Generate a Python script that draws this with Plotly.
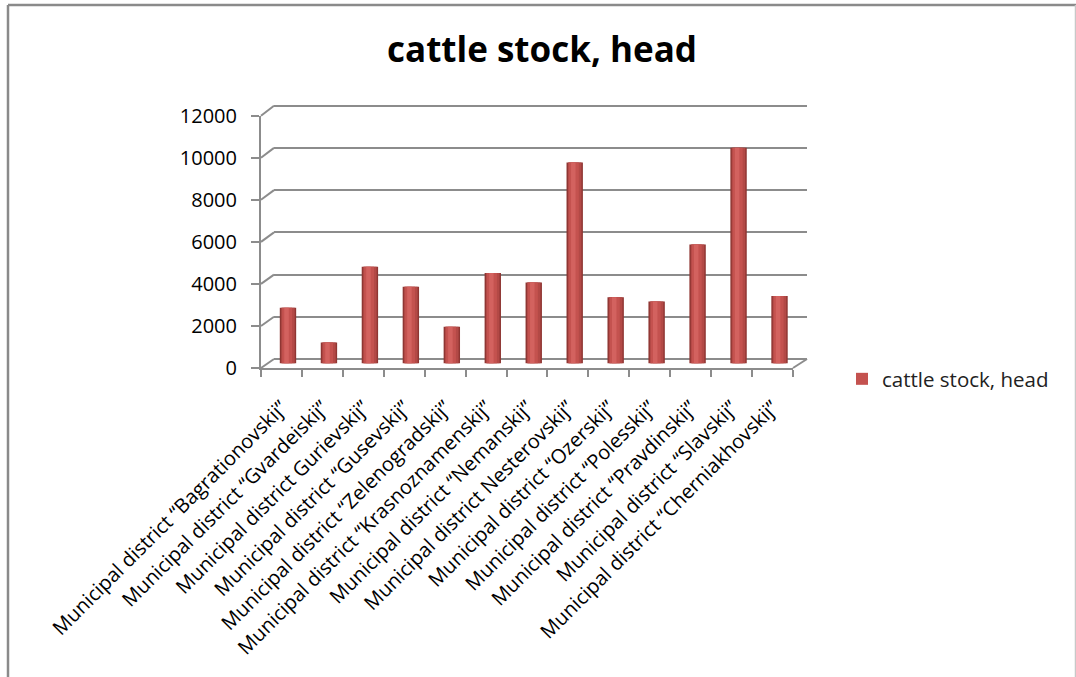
import plotly.graph_objects as go

# Cattle stock by municipal district (head)
districts = [
    "Municipal district “Bagrationovskij”",
    "Municipal district “Gvardeiskij”",
    "Municipal district Gurievskij”",
    "Municipal district “Gusevskij”",
    "Municipal district “Zelenogradskij”",
    "Municipal district “Krasnoznamenskij”",
    "Municipal district “Nemanskij”",
    "Municipal district Nesterovskij”",
    "Municipal district “Ozerskij”",
    "Municipal district “Polesskij”",
    "Municipal district “Pravdinskij”",
    "Municipal district “Slavskij”",
    "Municipal district “Cherniakhovskij”",
]
cattle_head = [2650, 1000, 4600, 3650, 1750, 4300, 3850, 9550, 3150, 2950, 5650, 10250, 3200]
y_ticks = [0, 2000, 4000, 6000, 8000, 10000, 12000]
series_name = "cattle stock, head"

W, H = 1076, 677
FONT = "Open Sans"
GRID = "#8C8C8C"


def fx(px):
    return px / W


def fy(py):
    return 1 - py / H


# pseudo-3D frame: front plane, bar (middle) plane and back wall, in page pixels
FRONT = dict(x0=261, x1=793, y0=368, y1=115.7)
MID = dict(x0=267.5, x1=800, y0=363.5, y1=110.8)
BACK = dict(x0=274, x1=807, y0=359, y1=105.7)
Y_MAX = 12000
Y_BACK_TOP = 12080  # a little headroom so the top grid line is kept


def plane_y(plane, v):
    return plane["y0"] - v * (plane["y0"] - plane["y1"]) / Y_MAX


fig = go.Figure()

# cylinder look: stacked overlaid bars from dark rim to light highlight
layers = [
    (0.40, None, "#8F3633", False),
    (0.33, None, "#B34946", False),
    (0.24, -0.14, "#C4524F", True),
    (0.11, -0.09, "#D3625F", False),
]
for width, offset, color, legend in layers:
    fig.add_trace(go.Bar(
        x=districts, y=cattle_head, width=width, offset=offset,
        marker=dict(color=color, line=dict(width=0)),
        name=series_name, showlegend=legend,
        xaxis="x2", yaxis="y2", hoverinfo="x+y" if legend else "skip",
    ))

# invisible traces so every axis pair builds its subplot
fig.add_trace(go.Bar(x=districts, y=cattle_head, opacity=0, showlegend=False,
                     hoverinfo="skip", xaxis="x", yaxis="y"))
fig.add_trace(go.Bar(x=districts, y=cattle_head, opacity=0, showlegend=False,
                     hoverinfo="skip", xaxis="x3", yaxis="y3"))

hidden = dict(showgrid=False, zeroline=False, showline=False,
              showticklabels=False, ticks="", automargin=False)

# side-wall connectors from the front value axis to the back wall
shapes = []
for v in y_ticks:
    shapes.append(dict(type="line", xref="paper", yref="paper",
                       x0=fx(FRONT["x0"]), y0=fy(plane_y(FRONT, v)),
                       x1=fx(BACK["x0"]), y1=fy(plane_y(BACK, v)),
                       line=dict(color=GRID, width=2), layer="below"))
shapes.append(dict(type="line", xref="paper", yref="paper",
                   x0=fx(FRONT["x1"]), y0=fy(FRONT["y0"]),
                   x1=fx(BACK["x1"]), y1=fy(BACK["y0"]),
                   line=dict(color=GRID, width=2), layer="below"))
# outer chart border
shapes += [
    dict(type="line", xref="paper", yref="paper", x0=fx(8), x1=fx(8),
         y0=fy(5), y1=0, line=dict(color="#8A8A8A", width=2.5)),
    dict(type="line", xref="paper", yref="paper", x0=fx(8), x1=1,
         y0=fy(5), y1=fy(5), line=dict(color="#8A8A8A", width=2.5)),
    dict(type="line", xref="paper", yref="paper", x0=fx(1075.5), x1=fx(1075.5),
         y0=fy(5), y1=0, line=dict(color="#C8C8C8", width=1.5)),
]

fig.update_layout(
    width=W, height=H,
    margin=dict(l=0, r=0, t=0, b=0, autoexpand=False),
    paper_bgcolor="white", plot_bgcolor="rgba(0,0,0,0)",
    barmode="overlay",
    font=dict(family=FONT, color="black"),
    title=dict(text="<b>" + series_name + "</b>", x=fx(542), y=fy(50),
               xanchor="center", yanchor="middle", automargin=False,
               font=dict(family=FONT, size=35, color="black")),
    showlegend=True,
    legend=dict(x=fx(842), y=fy(379), xanchor="left", yanchor="middle",
                font=dict(family=FONT, size=20.5, color="#222"),
                bgcolor="rgba(0,0,0,0)", itemwidth=30),
    # back wall with its horizontal grid
    xaxis=dict(domain=[fx(BACK["x0"]), fx(BACK["x1"])], anchor="y",
               range=[-0.5, 12.5], **hidden),
    yaxis=dict(domain=[fy(BACK["y0"]), fy(plane_y(BACK, Y_BACK_TOP))], anchor="x",
               range=[0, Y_BACK_TOP], tickvals=y_ticks, showgrid=True,
               gridcolor=GRID, gridwidth=2, zeroline=True, zerolinecolor=GRID,
               zerolinewidth=2, showline=False, showticklabels=False, ticks="",
               automargin=False),
    # bar plane
    xaxis2=dict(domain=[fx(MID["x0"]), fx(MID["x1"])], anchor="y2",
                range=[-0.5, 12.5], **hidden),
    yaxis2=dict(domain=[fy(MID["y0"]), fy(MID["y1"])], anchor="x2",
                range=[0, Y_MAX], **hidden),
    # front axes with ticks and labels
    xaxis3=dict(domain=[fx(FRONT["x0"]), fx(FRONT["x1"])], anchor="y3",
                range=[-0.5, 12.5], showline=True, linecolor=GRID, linewidth=2,
                ticks="outside", ticklen=7, tickwidth=2, tickcolor=GRID,
                tickson="boundaries", tickangle=-45, showgrid=False,
                zeroline=False, automargin=False, ticklabelstandoff=18,
                tickfont=dict(family=FONT, size=20, color="black")),
    yaxis3=dict(domain=[fy(FRONT["y0"]), fy(FRONT["y1"])], anchor="x3",
                range=[0, Y_MAX], tickvals=y_ticks, tickformat="d",
                showline=True, linecolor=GRID, linewidth=2, ticks="outside",
                ticklen=8, tickwidth=2, tickcolor=GRID, showgrid=False,
                zeroline=False, ticklabelstandoff=10, automargin=False,
                tickfont=dict(family=FONT, size=20, color="black")),
    shapes=shapes,
)

fig.write_html("out.html")
